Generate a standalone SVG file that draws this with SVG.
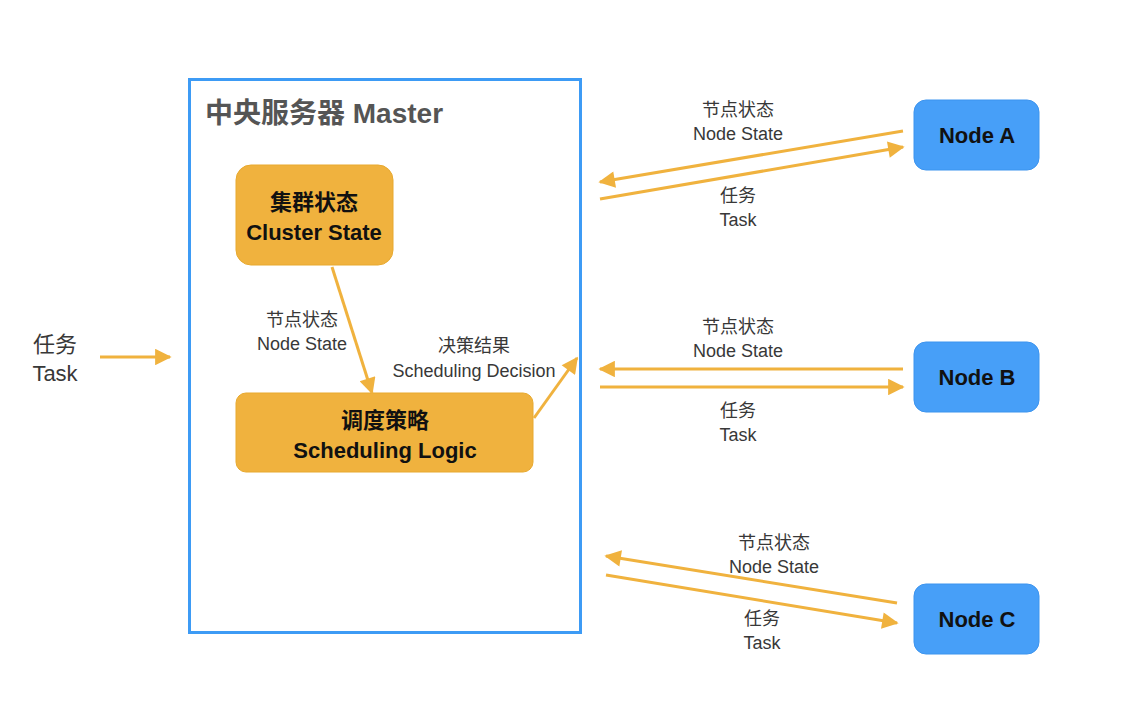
<svg xmlns="http://www.w3.org/2000/svg" width="1130" height="720" viewBox="0 0 1130 720">
<defs>
<marker id="ah" viewBox="0 0 10 10" refX="9" refY="5" markerWidth="6.5" markerHeight="5.5" markerUnits="strokeWidth" orient="auto">
<path d="M0,0 L10,5 L0,10 Z" fill="#F0B23E"/>
</marker>
<style>
.lbl{font-family:"Liberation Sans","Noto Sans CJK SC",sans-serif;font-size:18px;fill:#383838;text-anchor:middle}
.orange{fill:#F0B23E;stroke:#E8A92E;stroke-width:1}
.blue{fill:#479FF8;stroke:#3D94EE;stroke-width:1}
.bt{font-family:"Liberation Sans","Noto Sans CJK SC",sans-serif;font-size:22px;font-weight:bold;fill:#111;text-anchor:middle}
.conn{stroke:#F0B23E;stroke-width:3;fill:none;marker-end:url(#ah)}
</style>
</defs>
<rect width="1130" height="720" fill="#fff"/>
<g id="master">
<rect x="189.5" y="79.5" width="391" height="553" fill="none" stroke="#3D9BF5" stroke-width="3"/>
<text x="205" y="123" font-family="'Liberation Sans','Noto Sans CJK SC',sans-serif" font-size="28" font-weight="bold" fill="#555">中央服务器 Master</text>
</g>
<g id="cluster-state">
<rect class="orange" x="236" y="165" width="157" height="100" rx="15"/>
<text class="bt" x="314" y="210">集群状态</text>
<text class="bt" x="314" y="240">Cluster State</text>
</g>
<g id="scheduling-logic">
<rect class="orange" x="236" y="393" width="297" height="79" rx="10"/>
<text class="bt" x="385" y="428">调度策略</text>
<text class="bt" x="385" y="458">Scheduling Logic</text>
</g>
<g id="node-a">
<rect class="blue" x="914" y="100" width="125" height="70" rx="12"/>
<text class="bt" x="977" y="143">Node A</text>
</g>
<g id="node-b">
<rect class="blue" x="914" y="342" width="125" height="70" rx="12"/>
<text class="bt" x="977" y="385">Node B</text>
</g>
<g id="node-c">
<rect class="blue" x="914" y="584" width="125" height="70" rx="12"/>
<text class="bt" x="977" y="627">Node C</text>
</g>
<g id="connectors">
<line class="conn" x1="100" y1="357" x2="170" y2="357"/>
<line class="conn" x1="332" y1="267" x2="372" y2="393"/>
<line class="conn" x1="534" y1="418" x2="577" y2="358"/>
<line class="conn" x1="903" y1="131" x2="600" y2="182"/>
<line class="conn" x1="600" y1="199" x2="903" y2="147"/>
<line class="conn" x1="903" y1="369" x2="600" y2="369"/>
<line class="conn" x1="600" y1="387" x2="903" y2="387"/>
<line class="conn" x1="897" y1="603" x2="606" y2="556"/>
<line class="conn" x1="606" y1="575" x2="897" y2="623"/>
</g>
<g id="labels">
<text class="lbl" x="55" y="352" style="font-size:22px">任务</text>
<text class="lbl" x="55" y="381" style="font-size:22px">Task</text>
<text class="lbl" x="302" y="326">节点状态</text>
<text class="lbl" x="302" y="350">Node State</text>
<text class="lbl" x="474" y="352">决策结果</text>
<text class="lbl" x="474" y="377">Scheduling Decision</text>
<text class="lbl" x="738" y="116">节点状态</text>
<text class="lbl" x="738" y="140">Node State</text>
<text class="lbl" x="738" y="202">任务</text>
<text class="lbl" x="738" y="226">Task</text>
<text class="lbl" x="738" y="333">节点状态</text>
<text class="lbl" x="738" y="357">Node State</text>
<text class="lbl" x="738" y="417">任务</text>
<text class="lbl" x="738" y="441">Task</text>
<text class="lbl" x="774" y="549">节点状态</text>
<text class="lbl" x="774" y="573">Node State</text>
<text class="lbl" x="762" y="625">任务</text>
<text class="lbl" x="762" y="649">Task</text>
</g>
</svg>
